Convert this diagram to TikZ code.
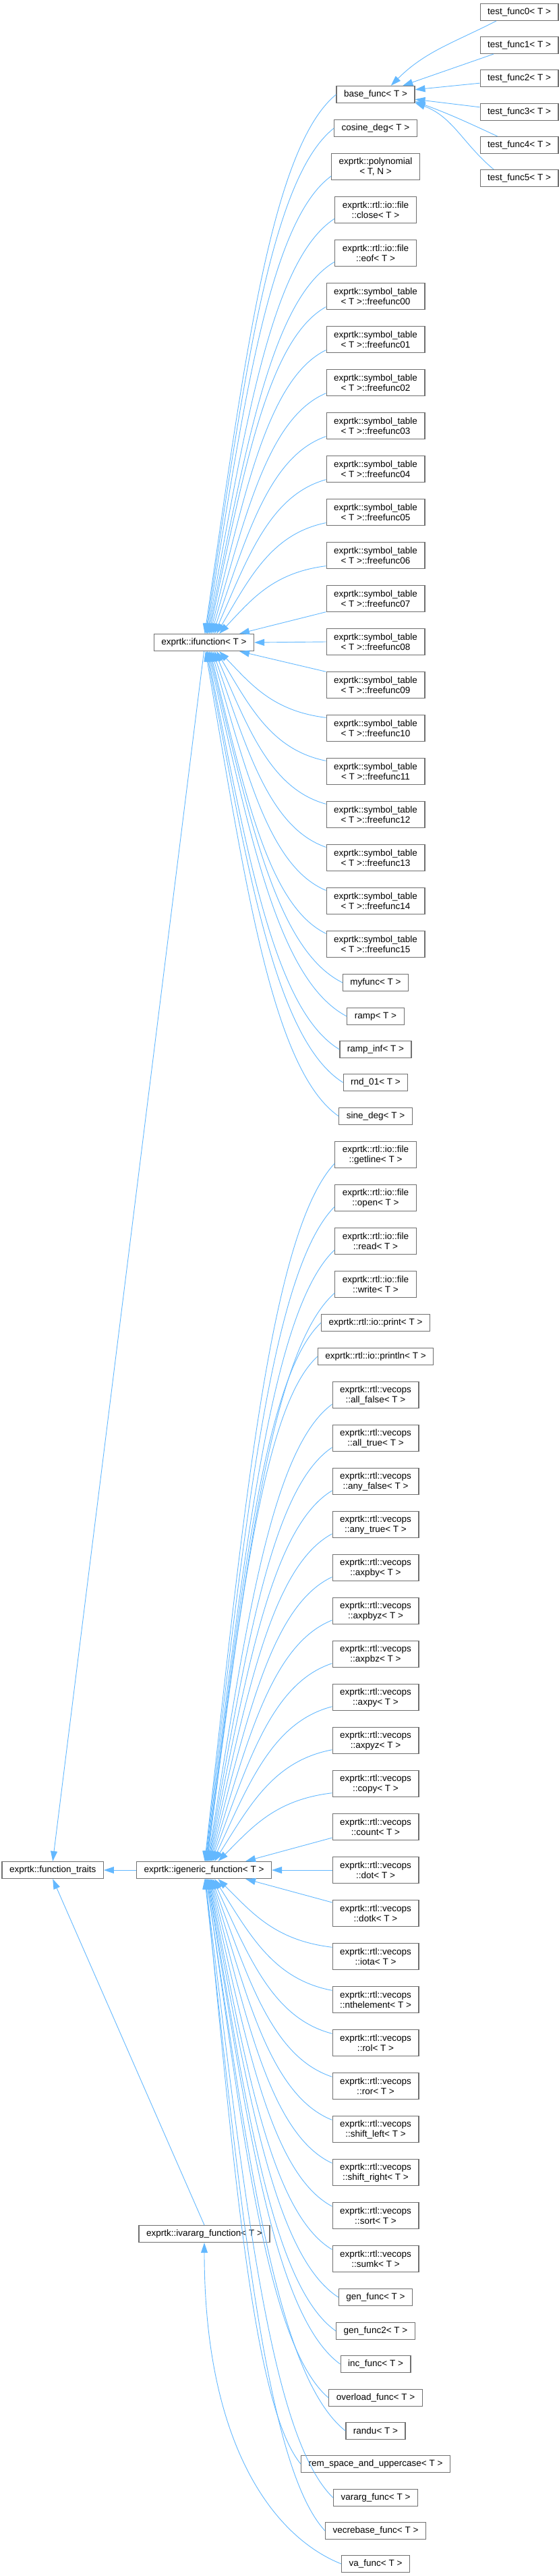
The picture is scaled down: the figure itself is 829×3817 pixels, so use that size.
\documentclass[tikz,border=0pt]{standalone}
\usepackage{fontspec}
\setmainfont{Liberation Sans}
\usepackage{xcolor}
\usetikzlibrary{arrows.meta, positioning, calc}

\definecolor{edgeblue}{HTML}{63B8FF}
\definecolor{boxgray}{HTML}{707070}

\begin{document}
\begin{tikzpicture}[
    x=1pt, y=1pt,
    cls/.style={draw=boxgray, fill=white, line width=1.2pt, rectangle, align=center,
      inner xsep=11pt, inner ysep=2pt, minimum height=25pt,
      font=\fontsize{13.5}{15}\selectfont},
    cls2/.style={cls, minimum height=39pt},
    inh/.style={{Triangle[length=15pt, width=10pt]}-, draw=edgeblue, line width=0.9pt},
    fan/.style={to path={let \p1=(\tikztostart), \p2=(\tikztotarget) in
      .. controls ({\x1+0.3*(\x2-\x1)}, {\y1+0.5*(\y2-\y1)})
      and ({\x1+0.5*(\x2-\x1)}, {\y2-0.1*(\y2-\y1)}) .. (\tikztotarget)}}
  ]
  \useasboundingbox (0,0) rectangle (829,-3817);

  % Base classes
  \node[cls] (ifn) at (302.5,-952) {exprtk::ifunction< T >};
  \node[cls] (igen) at (302.5,-2771) {exprtk::igeneric\_function< T >};
  \node[cls, left=48pt of igen] (traits) {exprtk::function\_traits};
  \node[cls] (ivar) at (303,-3310) {exprtk::ivararg\_function< T >};

  % Test functions
  \node[cls] (tf0) at (770,-18) {test\_func0< T >};
  \node[cls] (tf1) at (770,-67) {test\_func1< T >};
  \node[cls] (tf2) at (770,-116) {test\_func2< T >};
  \node[cls] (tf3) at (770,-166) {test\_func3< T >};
  \node[cls] (tf4) at (770,-215) {test\_func4< T >};
  \node[cls] (tf5) at (770,-264) {test\_func5< T >};

  % ifunction children
  \node[cls] (base) at (557,-140) {base\_func< T >};
  \node[cls] (cosdeg) at (557,-190) {cosine\_deg< T >};
  \node[cls2] (poly) at (557,-247) {exprtk::polynomial\\< T, N >};
  \node[cls2] (fclose) at (557,-311) {exprtk::rtl::io::file\\::close< T >};
  \node[cls2] (feof) at (557,-375) {exprtk::rtl::io::file\\::eof< T >};
  \node[cls2] (ff00) at (557,-439) {exprtk::symbol\_table\\< T >::freefunc00};
  \node[cls2] (ff01) at (557,-503) {exprtk::symbol\_table\\< T >::freefunc01};
  \node[cls2] (ff02) at (557,-567) {exprtk::symbol\_table\\< T >::freefunc02};
  \node[cls2] (ff03) at (557,-631) {exprtk::symbol\_table\\< T >::freefunc03};
  \node[cls2] (ff04) at (557,-695) {exprtk::symbol\_table\\< T >::freefunc04};
  \node[cls2] (ff05) at (557,-759) {exprtk::symbol\_table\\< T >::freefunc05};
  \node[cls2] (ff06) at (557,-823) {exprtk::symbol\_table\\< T >::freefunc06};
  \node[cls2] (ff07) at (557,-887) {exprtk::symbol\_table\\< T >::freefunc07};
  \node[cls2] (ff08) at (557,-951) {exprtk::symbol\_table\\< T >::freefunc08};
  \node[cls2] (ff09) at (557,-1015) {exprtk::symbol\_table\\< T >::freefunc09};
  \node[cls2] (ff10) at (557,-1079) {exprtk::symbol\_table\\< T >::freefunc10};
  \node[cls2] (ff11) at (557,-1143) {exprtk::symbol\_table\\< T >::freefunc11};
  \node[cls2] (ff12) at (557,-1207) {exprtk::symbol\_table\\< T >::freefunc12};
  \node[cls2] (ff13) at (557,-1271) {exprtk::symbol\_table\\< T >::freefunc13};
  \node[cls2] (ff14) at (557,-1335) {exprtk::symbol\_table\\< T >::freefunc14};
  \node[cls2] (ff15) at (557,-1399) {exprtk::symbol\_table\\< T >::freefunc15};
  \node[cls] (myfunc) at (557,-1456) {myfunc< T >};
  \node[cls] (ramp) at (557,-1506) {ramp< T >};
  \node[cls] (rampinf) at (557,-1555) {ramp\_inf< T >};
  \node[cls] (rnd) at (557,-1604) {rnd\_01< T >};
  \node[cls] (sinedeg) at (557,-1654) {sine\_deg< T >};

  % igeneric_function children
  \node[cls2] (fgetline) at (557,-1711) {exprtk::rtl::io::file\\::getline< T >};
  \node[cls2] (fopen) at (557,-1775) {exprtk::rtl::io::file\\::open< T >};
  \node[cls2] (fread) at (557,-1839) {exprtk::rtl::io::file\\::read< T >};
  \node[cls2] (fwrite) at (557,-1903) {exprtk::rtl::io::file\\::write< T >};
  \node[cls] (print) at (557,-1960) {exprtk::rtl::io::print< T >};
  \node[cls] (println) at (557,-2010) {exprtk::rtl::io::println< T >};
  \node[cls2] (allfalse) at (557,-2067) {exprtk::rtl::vecops\\::all\_false< T >};
  \node[cls2] (alltrue) at (557,-2131) {exprtk::rtl::vecops\\::all\_true< T >};
  \node[cls2] (anyfalse) at (557,-2195) {exprtk::rtl::vecops\\::any\_false< T >};
  \node[cls2] (anytrue) at (557,-2259) {exprtk::rtl::vecops\\::any\_true< T >};
  \node[cls2] (axpby) at (557,-2323) {exprtk::rtl::vecops\\::axpby< T >};
  \node[cls2] (axpbyz) at (557,-2387) {exprtk::rtl::vecops\\::axpbyz< T >};
  \node[cls2] (axpbz) at (557,-2451) {exprtk::rtl::vecops\\::axpbz< T >};
  \node[cls2] (axpy) at (557,-2515) {exprtk::rtl::vecops\\::axpy< T >};
  \node[cls2] (axpyz) at (557,-2579) {exprtk::rtl::vecops\\::axpyz< T >};
  \node[cls2] (copy) at (557,-2643) {exprtk::rtl::vecops\\::copy< T >};
  \node[cls2] (count) at (557,-2707) {exprtk::rtl::vecops\\::count< T >};
  \node[cls2] (dot) at (557,-2771) {exprtk::rtl::vecops\\::dot< T >};
  \node[cls2] (dotk) at (557,-2835) {exprtk::rtl::vecops\\::dotk< T >};
  \node[cls2] (iota) at (557,-2899) {exprtk::rtl::vecops\\::iota< T >};
  \node[cls2] (nth) at (557,-2963) {exprtk::rtl::vecops\\::nthelement< T >};
  \node[cls2] (rol) at (557,-3027) {exprtk::rtl::vecops\\::rol< T >};
  \node[cls2] (ror) at (557,-3091) {exprtk::rtl::vecops\\::ror< T >};
  \node[cls2] (shl) at (557,-3155) {exprtk::rtl::vecops\\::shift\_left< T >};
  \node[cls2] (shr) at (557,-3219) {exprtk::rtl::vecops\\::shift\_right< T >};
  \node[cls2] (sort) at (557,-3283) {exprtk::rtl::vecops\\::sort< T >};
  \node[cls2] (sumk) at (557,-3347) {exprtk::rtl::vecops\\::sumk< T >};
  \node[cls] (genfunc) at (557,-3404) {gen\_func< T >};
  \node[cls] (genfunctwo) at (557,-3454) {gen\_func2< T >};
  \node[cls] (incfunc) at (557,-3503) {inc\_func< T >};
  \node[cls] (overload) at (557,-3553) {overload\_func< T >};
  \node[cls] (randu) at (557,-3602) {randu< T >};
  \node[cls] (remspace) at (557,-3651) {rem\_space\_and\_uppercase< T >};
  \node[cls] (vararg) at (557,-3701) {vararg\_func< T >};
  \node[cls] (vecrebase) at (557,-3750) {vecrebase\_func< T >};

  % ivararg_function child
  \node[cls] (vafunc) at (557,-3799) {va\_func< T >};

  % Inheritance: base_func
  \draw[inh] (base.30) to[out=45, in=207] (tf0.201);
  \draw[inh] (base.18) -- (tf1.199);
  \draw[inh] (base.7) -- (tf2.187);
  \draw[inh] (base.-7) -- (tf3.173);
  \draw[inh] (base.-10) to[out=-20, in=155] (tf4.158);
  \draw[inh] (base.-12) to[out=-20, in=140] (tf5.161);

  % Inheritance: ifunction
  \draw[inh] (ifn.85) to[fan] (base.west);
  \draw[inh] (ifn.80) to[fan] (cosdeg.west);
  \draw[inh] (ifn.75) to[fan] (poly.192);
  \draw[inh] (ifn.70) to[fan] (fclose.192);
  \draw[inh] (ifn.65) to[fan] (feof.192);
  \draw[inh] (ifn.60) to[fan] (ff00.192);
  \draw[inh] (ifn.55) to[fan] (ff01.192);
  \draw[inh] (ifn.50) to[fan] (ff02.192);
  \draw[inh] (ifn.45) to[fan] (ff03.192);
  \draw[inh] (ifn.40) to[fan] (ff04.192);
  \draw[inh] (ifn.35) to[fan] (ff05.192);
  \draw[inh] (ifn.30) to[fan] (ff06.192);
  \draw[inh] (ifn.14) -- (ff07.195);
  \draw[inh] (ifn.east) -- (ff08.west);
  \draw[inh] (ifn.-14) -- (ff09.165);
  \draw[inh] (ifn.-30) to[fan] (ff10.168);
  \draw[inh] (ifn.-35) to[fan] (ff11.168);
  \draw[inh] (ifn.-40) to[fan] (ff12.168);
  \draw[inh] (ifn.-45) to[fan] (ff13.168);
  \draw[inh] (ifn.-50) to[fan] (ff14.168);
  \draw[inh] (ifn.-55) to[fan] (ff15.168);
  \draw[inh] (ifn.-60) to[fan] (myfunc.west);
  \draw[inh] (ifn.-65) to[fan] (ramp.west);
  \draw[inh] (ifn.-70) to[fan] (rampinf.west);
  \draw[inh] (ifn.-75) to[fan] (rnd.west);
  \draw[inh] (ifn.-80) to[fan] (sinedeg.west);

  % Inheritance: igeneric_function
  \draw[inh] (igen.85) to[fan] (fgetline.192);
  \draw[inh] (igen.82) to[fan] (fopen.192);
  \draw[inh] (igen.79) to[fan] (fread.192);
  \draw[inh] (igen.76) to[fan] (fwrite.192);
  \draw[inh] (igen.73) to[fan] (print.west);
  \draw[inh] (igen.70) to[fan] (println.west);
  \draw[inh] (igen.67) to[fan] (allfalse.192);
  \draw[inh] (igen.64) to[fan] (alltrue.192);
  \draw[inh] (igen.61) to[fan] (anyfalse.192);
  \draw[inh] (igen.58) to[fan] (anytrue.192);
  \draw[inh] (igen.55) to[fan] (axpby.192);
  \draw[inh] (igen.52) to[fan] (axpbyz.192);
  \draw[inh] (igen.49) to[fan] (axpbz.192);
  \draw[inh] (igen.45) to[fan] (axpy.192);
  \draw[inh] (igen.40) to[fan] (axpyz.192);
  \draw[inh] (igen.32) to[fan] (copy.192);
  \draw[inh] (igen.12) -- (count.194);
  \draw[inh] (igen.east) -- (dot.west);
  \draw[inh] (igen.-12) -- (dotk.166);
  \draw[inh] (igen.-32) to[fan] (iota.168);
  \draw[inh] (igen.-40) to[fan] (nth.168);
  \draw[inh] (igen.-45) to[fan] (rol.168);
  \draw[inh] (igen.-49) to[fan] (ror.168);
  \draw[inh] (igen.-52) to[fan] (shl.168);
  \draw[inh] (igen.-55) to[fan] (shr.168);
  \draw[inh] (igen.-58) to[fan] (sort.168);
  \draw[inh] (igen.-61) to[fan] (sumk.168);
  \draw[inh] (igen.-64) to[fan] (genfunc.west);
  \draw[inh] (igen.-67) to[fan] (genfunctwo.west);
  \draw[inh] (igen.-70) to[fan] (incfunc.west);
  \draw[inh] (igen.-73) to[fan] (overload.west);
  \draw[inh] (igen.-76) to[fan] (randu.west);
  \draw[inh] (igen.-79) to[fan] (remspace.west);
  \draw[inh] (igen.-82) to[fan] (vararg.west);
  \draw[inh] (igen.-85) to[fan] (vecrebase.west);

  % Inheritance: ivararg_function and function_traits
  \draw[inh] (ivar.south) .. controls +(0,-300) and +(-100,40) .. (vafunc.west);
  \draw[inh] (traits.north) -- (ifn.south);
  \draw[inh] (traits.east) -- (igen.west);
  \draw[inh] (traits.south) -- (ivar.north);
\end{tikzpicture}
\end{document}
